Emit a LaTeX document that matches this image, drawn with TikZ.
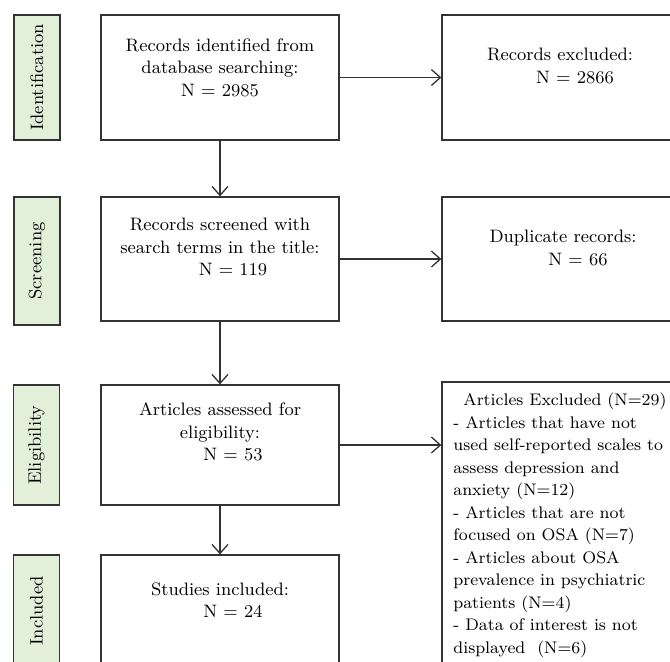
\documentclass[tikz,border=0pt]{standalone}
\usetikzlibrary{arrows.meta}
\definecolor{stagegreen}{HTML}{E2EFD9}
\definecolor{linegray}{HTML}{333333}
\tikzset{
  stagebox/.style={draw=linegray, fill=stagegreen, line width=0.65pt, minimum width=23pt, inner sep=0pt},
  flowbox/.style={draw=linegray, line width=0.65pt, inner sep=0pt},
  flowtext/.style={align=center, inner sep=0pt, font=\fontsize{9}{11.25}\selectfont},
  flowarrow/.style={draw=linegray, line width=0.65pt, -{Straight Barb[length=4.5pt,width=8pt]}}
}
\begin{document}
\begin{tikzpicture}[x=0.5pt, y=-0.5pt]
\useasboundingbox (0,0) rectangle (670,661);
\clip (0,0) rectangle (670,661);

\node[stagebox, minimum height=62.5pt] (ident) at (37,77.5) {};
\node[flowtext, rotate=90] at (ident.center) {Identification};
\node[stagebox, minimum height=64pt] (screen) at (37,261) {};
\node[flowtext, rotate=90] at (screen.center) {Screening};
\node[stagebox, minimum height=60pt] (elig) at (36.5,445) {};
\node[flowtext, rotate=90] at (elig.center) {Eligibility};
\node[stagebox, minimum height=56pt] (incl) at (36.5,611) {};
\node[flowtext, rotate=90] at (incl.center) {Included};

\node[flowbox, minimum width=119pt, minimum height=62.5pt] (records) at (220,77.5) {};
\node[flowtext] at (220,67.5) {Records identified from\\database searching:\\N = 2985};
\node[flowbox, minimum width=119pt, minimum height=62pt] (screened) at (220,259) {};
\node[flowtext] at (220,247) {Records screened with\\search terms in the title:\\\hspace*{13pt}N = 119};
\node[flowbox, minimum width=119pt, minimum height=60pt] (assessed) at (220,445) {};
\node[flowtext] at (220,432) {Articles assessed for\\eligibility:\\\hspace*{13pt}N = 53};
\node[flowbox, minimum width=119pt, minimum height=56pt] (studies) at (220,611) {};
\node[flowtext] at (220,600) {Studies included:\\\hspace*{13pt}N = 24};

\node[flowbox, minimum width=118.5pt, minimum height=62.5pt] (excluded) at (560.5,77.5) {};
\node[flowtext] at (560,66) {Records excluded:\\\hspace*{15pt}N = 2866};
\node[flowbox, minimum width=118.5pt, minimum height=62pt] (duplicates) at (560.5,259) {};
\node[flowtext] at (563,248) {Duplicate records:\\\hspace*{15pt}N = 66};
\node[flowbox, minimum width=118.5pt, minimum height=159pt] (articles) at (560.5,541) {};
\node[flowtext, font=\fontsize{8.4}{11.25}\selectfont, align=left, anchor=west] at (453,525.5) {\hspace*{5pt}Articles Excluded (N=29)\\- Articles that have not\\used self-reported scales to\\assess depression and\\anxiety (N=12)\\- Articles that are not\\focused on OSA (N=7)\\- Articles about OSA\\prevalence in psychiatric\\patients (N=4)\\- Data of interest is not\\displayed\ \ (N=6)};

\draw[flowarrow] (records) -- (screened);
\draw[flowarrow] (screened) -- (assessed);
\draw[flowarrow] (assessed) -- (studies);
\draw[flowarrow] (records) -- (excluded);
\draw[flowarrow] (screened) -- (duplicates);
\draw[flowarrow] (assessed.east) -- (assessed.east -| articles.west);
\end{tikzpicture}
\end{document}
